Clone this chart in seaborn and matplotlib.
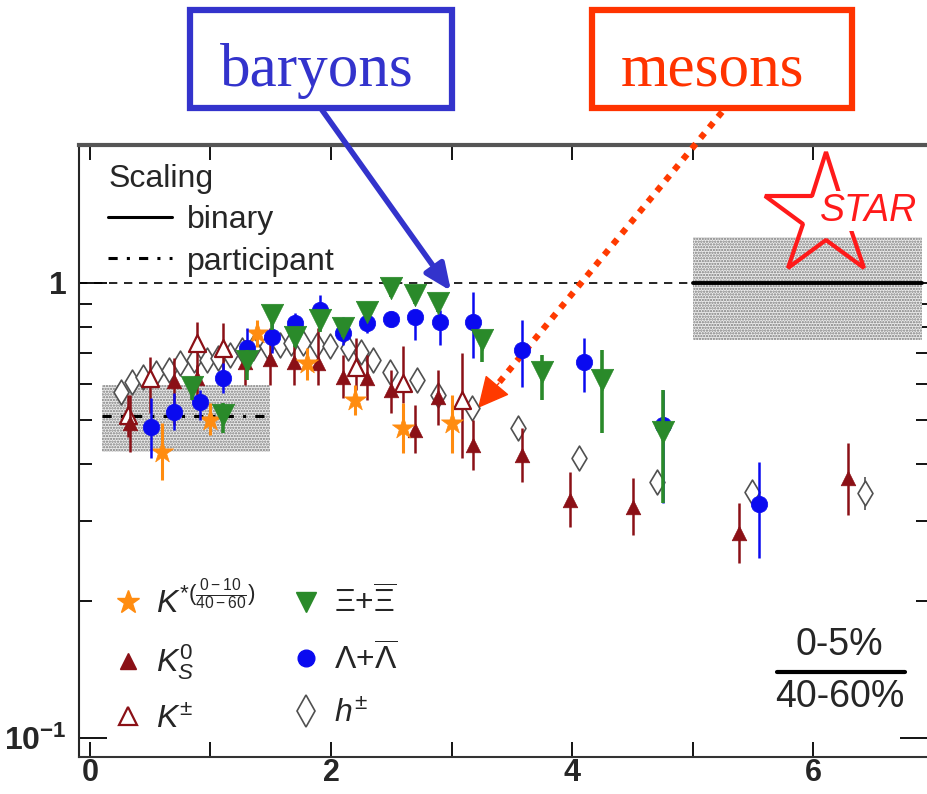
import matplotlib
matplotlib.use('Agg')
import matplotlib.pyplot as plt
from matplotlib.lines import Line2D
from matplotlib.patches import Rectangle
from matplotlib.ticker import FixedLocator, FixedFormatter, NullFormatter
import seaborn as sns

# Ratio 0-5% / 40-60%  vs  pT (GeV/c)
kstar_pt = [0.60, 1.00, 1.39, 1.80, 2.20, 2.60, 3.00]
kstar_r = [0.425, 0.500, 0.776, 0.667, 0.553, 0.480, 0.492]
kstar_lo = [0.369, 0.463, 0.723, 0.612, 0.513, 0.423, 0.423]
kstar_hi = [0.492, 0.545, 0.829, 0.720, 0.597, 0.545, 0.567]

k0s_pt = [0.33, 0.70, 0.89, 1.29, 1.49, 1.69, 1.89, 2.10, 2.30, 2.50, 2.70, 2.89,
          3.18, 3.58, 3.98, 4.50, 5.38, 6.29]
k0s_r = [0.492, 0.609, 0.618, 0.671, 0.681, 0.671, 0.667, 0.621, 0.618, 0.582, 0.475, 0.562,
         0.441, 0.419, 0.334, 0.322, 0.282, 0.373]
k0s_lo = [0.425, 0.488, 0.567, 0.597, 0.597, 0.597, 0.597, 0.559, 0.553, 0.518, 0.423, 0.488,
          0.388, 0.365, 0.291, 0.279, 0.242, 0.309]
k0s_hi = [0.567, 0.684, 0.660, 0.749, 0.796, 0.731, 0.796, 0.695, 0.695, 0.644, 0.540, 0.644,
          0.500, 0.480, 0.384, 0.373, 0.328, 0.445]

kch_pt = [0.32, 0.50, 0.89, 1.10, 2.21, 2.60, 3.09]
kch_r = [0.513, 0.618, 0.738, 0.720, 0.654, 0.603, 0.553]
kch_lo = [0.459, 0.518, 0.621, 0.612, 0.582, 0.545, 0.412]
kch_hi = [0.567, 0.688, 0.821, 0.817, 0.757, 0.727, 0.702]

lam_pt = [0.51, 0.70, 0.91, 1.10, 1.30, 1.51, 1.70, 1.91, 2.10, 2.30, 2.50, 2.70, 2.90,
          3.18, 3.58, 4.10, 4.75, 5.55]
lam_r = [0.483, 0.521, 0.548, 0.618, 0.720, 0.761, 0.817, 0.872, 0.776, 0.817, 0.833, 0.842, 0.821,
         0.821, 0.712, 0.671, 0.488, 0.327]
lam_lo = [0.413, 0.475, 0.500, 0.573, 0.667, 0.702, 0.776, 0.817, 0.731, 0.776, 0.800, 0.749, 0.731,
          0.684, 0.591, 0.576, 0.328, 0.249]
lam_hi = [0.559, 0.573, 0.582, 0.667, 0.796, 0.817, 0.859, 0.941, 0.842, 0.850, 0.866, 0.872, 0.872,
          0.955, 0.829, 0.757, 0.582, 0.404]

xi_pt = [0.85, 1.10, 1.30, 1.51, 1.70, 1.91, 2.10, 2.30, 2.50, 2.70, 2.89, 3.25, 3.75, 4.25, 4.75]
xi_r = [0.591, 0.513, 0.674, 0.851, 0.761, 0.829, 0.796, 0.864, 0.975, 0.941, 0.904, 0.749,
        0.637, 0.612, 0.470]
xi_lo = [0.553, 0.468, 0.612, 0.788, 0.723, 0.780, 0.760, 0.830, 0.930, 0.900, 0.865, 0.670,
         0.553, 0.468, 0.328]
xi_hi = [0.621, 0.545, 0.713, 0.895, 0.796, 0.872, 0.835, 0.895, 1.000, 0.985, 0.945, 0.780,
         0.695, 0.713, 0.582]

h_pt = [0.26, 0.35, 0.44, 0.55, 0.66, 0.75, 0.86, 0.97, 1.06, 1.16, 1.26, 1.35, 1.47, 1.58, 1.67,
        1.77, 1.88, 1.99, 2.14, 2.25, 2.35, 2.49, 2.71, 2.89, 3.17, 3.55, 4.06, 4.70, 5.49, 6.43]
h_r = [0.577, 0.607, 0.621, 0.634, 0.644, 0.667, 0.677, 0.677, 0.683, 0.695, 0.713, 0.719, 0.725,
       0.731, 0.737, 0.737, 0.731, 0.725, 0.719, 0.706, 0.677, 0.638, 0.612, 0.567, 0.530, 0.480,
       0.412, 0.366, 0.348, 0.346]
h_err = [0.012, 0.012, 0.012, 0.012, 0.012, 0.012, 0.012, 0.012, 0.012, 0.012, 0.012, 0.012, 0.012,
         0.012, 0.012, 0.012, 0.012, 0.012, 0.012, 0.012, 0.012, 0.012, 0.012, 0.015, 0.018, 0.020,
         0.020, 0.018, 0.019, 0.029]

# normalisation bands: participant (left) and binary (right) scaling
part_x = [0.10, 1.49]
part_level = 0.51
part_lo = 0.425
part_hi = 0.597
bin_x = [5.00, 6.90]
bin_level = 1.0
bin_lo = 0.75
bin_hi = 1.26

sns.set_style('ticks')
plt.rcParams['font.family'] = ['Liberation Sans', 'DejaVu Sans']
plt.rcParams['mathtext.fontset'] = 'custom'
plt.rcParams['mathtext.rm'] = 'Liberation Sans'
plt.rcParams['mathtext.it'] = 'Liberation Sans:italic'
plt.rcParams['mathtext.bf'] = 'Liberation Sans:bold'
plt.rcParams['hatch.linewidth'] = 1.1

ORANGE = '#ff8c10'
DRED = '#8b1016'
GREEN = '#2a8a2a'
BLUE = '#0a0af0'
GREY = '#505050'

fig = plt.figure(figsize=(9.28, 7.94), dpi=100)
ax = fig.add_axes([79 / 928, 37 / 794, 849 / 928, 612 / 794])
ax.set_yscale('log')

# bands
ax.fill_between(part_x, part_lo, part_hi, facecolor='#ececec', edgecolor='#7a7a7a',
                hatch='......', linewidth=0, zorder=1)
ax.fill_between(bin_x, bin_lo, bin_hi, facecolor='#ececec', edgecolor='#7a7a7a',
                hatch='......', linewidth=0, zorder=1)
ax.plot(part_x, [part_level, part_level], color='k', lw=2.2, ls=(0, (3, 3, 1, 3)), zorder=2)
ax.plot(bin_x, [bin_level, bin_level], color='k', lw=2.8, zorder=2)
ax.plot([-0.09, bin_x[0]], [bin_level, bin_level], color='k', lw=1.2, ls=(0, (5, 4)), zorder=2)

species = [
    (h_pt, h_r, h_err, None, 'd', 160, 'white', GREY, 1.2, 1.2, 3),
    (kch_pt, kch_r, kch_lo, kch_hi, '^', 150, 'white', DRED, 1.6, 1.8, 4),
    (k0s_pt, k0s_r, k0s_lo, k0s_hi, '^', 110, DRED, DRED, 0.5, 1.8, 5),
    (kstar_pt, kstar_r, kstar_lo, kstar_hi, '*', 280, ORANGE, ORANGE, 0.5, 2.2, 6),
    (lam_pt, lam_r, lam_lo, lam_hi, 'o', 140, BLUE, BLUE, 0.5, 1.8, 7),
    (xi_pt, xi_r, xi_lo, xi_hi, 'v', 260, GREEN, GREEN, 0.5, 2.6, 8),
]

for pt, r, lo, hi, mk, s, fc, ec, mew, elw, z in species:
    if hi is None:
        yerr = lo
    else:
        yerr = [[a - b for a, b in zip(r, lo)], [b - a for a, b in zip(r, hi)]]
    ax.errorbar(pt, r, yerr=yerr, fmt='none', ecolor=ec, elinewidth=elw, capsize=0, zorder=z)
    sns.scatterplot(x=pt, y=r, marker=mk, s=s, facecolor=fc, edgecolor=ec, linewidth=mew,
                    ax=ax, zorder=z + 0.5, legend=False)

ax.set_xlim(-0.09, 6.95)
ax.set_ylim(0.0908, 2.01)
ax.xaxis.set_major_locator(FixedLocator([0, 2, 4, 6]))
ax.xaxis.set_minor_locator(FixedLocator([1, 3, 5]))
ax.yaxis.set_major_locator(FixedLocator([0.1, 1]))
ax.yaxis.set_major_formatter(FixedFormatter([r'$\mathbf{10^{-1}}$', '1']))
ax.yaxis.set_minor_locator(FixedLocator([0.2, 0.3, 0.4, 0.5, 0.6, 0.7, 0.8, 0.9]))
ax.yaxis.set_minor_formatter(NullFormatter())
ax.tick_params(which='both', direction='in', top=True, right=True, width=1.3, color='k')
ax.tick_params(axis='x', which='both', length=11, labelsize=22, pad=1)
ax.tick_params(axis='y', which='major', length=20, labelsize=23, pad=9)
ax.tick_params(axis='y', which='minor', length=9)
for lab in ax.get_xticklabels() + ax.get_yticklabels():
    lab.set_fontweight('bold')
ax.set_xlabel('')
ax.set_ylabel('')
ax.spines['top'].set_linewidth(3)
ax.spines['top'].set_color('#555555')
ax.spines['bottom'].set_linewidth(1.5)
ax.spines['bottom'].set_color('#333333')
ax.spines['left'].set_linewidth(1.5)
ax.spines['right'].set_visible(False)

# scaling legend
scale_handles = [Line2D([], [], color='k', lw=2.2),
                 Line2D([], [], color='k', lw=2.2, ls=(0, (3, 3, 1, 3)))]
leg1 = ax.legend(scale_handles, ['binary', 'participant'], title='Scaling', loc='upper left',
                 bbox_to_anchor=(0.012, 1.0), frameon=False, fontsize=23, title_fontsize=23,
                 handlelength=2.0, handletextpad=0.45, labelspacing=0.35, borderaxespad=0.2)
leg1._legend_box.align = 'left'
ax.add_artist(leg1)

# particle legend
sp_handles = [
    Line2D([], [], ls='none', marker='*', ms=17, mfc=ORANGE, mec=ORANGE),
    Line2D([], [], ls='none', marker='^', ms=11, mfc=DRED, mec=DRED),
    Line2D([], [], ls='none', marker='^', ms=13, mfc='white', mec=DRED, mew=1.6),
    Line2D([], [], ls='none', marker='v', ms=15, mfc=GREEN, mec=GREEN),
    Line2D([], [], ls='none', marker='o', ms=12, mfc=BLUE, mec=BLUE),
    Line2D([], [], ls='none', marker='d', ms=16, mfc='white', mec=GREY, mew=1.2),
]
sp_labels = [r'$K^{*(\frac{0-10}{40-60})}$', r'$K^0_S$', r'$K^{\pm}$',
             r'$\Xi{+}\overline{\Xi}$', r'$\Lambda{+}\overline{\Lambda}$', r'$h^{\pm}$']
ax.legend(sp_handles, sp_labels, ncol=2, loc='lower left', bbox_to_anchor=(0.013, 0.0),
          frameon=False, fontsize=23, handlelength=1.0, handletextpad=0.35,
          columnspacing=1.1, labelspacing=0.7, borderaxespad=0.3)

# centrality ratio label
ax.text(0.896, 0.183, '0-5%', transform=ax.transAxes, ha='center', va='center', fontsize=27)
ax.plot([0.822, 0.973], [0.139, 0.139], transform=ax.transAxes, color='k', lw=3, clip_on=False)
ax.text(0.896, 0.098, '40-60%', transform=ax.transAxes, ha='center', va='center', fontsize=27)

# STAR logo
fig.add_artist(Line2D([826 / 928], [1 - 216 / 794], marker='*', ms=92, mfc='none', mec='#ff1a1a',
                      mew=3, transform=fig.transFigure))
fig.text(869 / 928, 1 - 211 / 794, 'STAR', color='#ff1a1a', fontsize=27, style='italic',
         ha='center', va='center',
         bbox=dict(boxstyle='square,pad=0.05', fc='white', ec='none'))

# baryons / mesons call-outs
fig.add_artist(Rectangle((190 / 928, 1 - 108 / 794), 262 / 928, 98 / 794, transform=fig.transFigure,
                         fill=False, ec='#3333cc', lw=4.5))
fig.add_artist(Rectangle((592 / 928, 1 - 108 / 794), 260 / 928, 98 / 794, transform=fig.transFigure,
                         fill=False, ec='#ff3300', lw=4.5))
fig.text(317 / 928, 1 - 86 / 794, 'baryons', color='#3333cc', fontsize=44,
         family='Liberation Serif', ha='center', va='baseline')
fig.text(712 / 928, 1 - 86 / 794, 'mesons', color='#ff3300', fontsize=44,
         family='Liberation Serif', ha='center', va='baseline')
ax.annotate('', xy=(451, 794 - 291), xytext=(322, 794 - 110), xycoords='figure pixels',
            textcoords='figure pixels', annotation_clip=False,
            arrowprops=dict(arrowstyle='-|>,head_length=1.6,head_width=0.7', color='#3333cc',
                            lw=4, shrinkA=0, shrinkB=0))
# dotted shaft + solid head for the meson arrow
ax.annotate('', xy=(497, 794 - 385), xytext=(722, 794 - 112), xycoords='figure pixels',
            textcoords='figure pixels', annotation_clip=False,
            arrowprops=dict(arrowstyle='-', color='#ff3a00', lw=4.5, ls=(0, (1, 1.2)),
                            capstyle='butt', shrinkA=0, shrinkB=0))
ax.annotate('', xy=(478, 794 - 408), xytext=(499, 794 - 383), xycoords='figure pixels',
            textcoords='figure pixels', annotation_clip=False,
            arrowprops=dict(arrowstyle='-|>,head_length=2.0,head_width=1.0', color='#ff3a00',
                            lw=1, shrinkA=0, shrinkB=0))

fig.savefig('out.png', dpi=100)
